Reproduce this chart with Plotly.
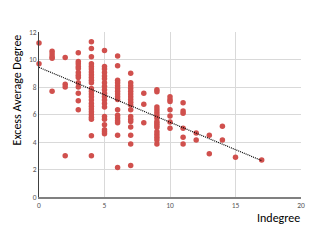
import numpy as np
import plotly.graph_objects as go

# Indegree columns and their Excess Average Degree values
col_x = [0, 1, 2, 3, 4, 5, 6, 7, 8, 9, 10, 11, 12, 13, 14, 15, 17]
col_y = [
    [11.2, 9.7],
    [10.6, 10.4, 10.2, 10.1, 7.7],
    [10.15, 8.2, 8.0, 3.0],
    [10.5, 9.85, 9.7, 9.5, 9.35, 9.05, 8.85, 8.7, 8.3, 8.0, 7.55, 7.0, 6.35],
    [11.3, 10.8, 10.2, 9.7, 9.5, 9.3, 9.1, 8.9, 8.7, 8.5, 8.3, 7.9, 7.7, 7.5,
     7.3, 7.05, 6.8, 6.6, 6.4, 6.2, 6.0, 5.8, 5.65, 4.45, 3.0],
    [10.65, 9.5, 9.3, 9.05, 8.8, 8.6, 8.3, 8.05, 7.8, 7.55, 7.3, 7.05, 6.8,
     6.55, 5.85, 5.65, 5.25, 4.9, 4.75, 4.6],
    [10.25, 9.55, 8.5, 8.3, 8.1, 7.9, 7.7, 7.5, 7.3, 7.1, 6.35, 5.95, 5.75,
     5.55, 5.4, 4.5, 2.15],
    [9.0, 8.3, 8.1, 7.9, 7.7, 7.5, 7.3, 7.1, 6.9, 6.7, 6.35, 5.85, 5.65, 5.5,
     5.1, 4.5, 3.85, 2.3],
    [7.55, 6.75, 5.4],
    [7.8, 7.65, 6.55, 6.35, 6.15, 5.95, 5.75, 5.5, 5.35, 5.2, 5.05, 4.75,
     4.55, 4.35, 4.15, 3.85],
    [7.3, 7.1, 6.95, 6.35, 5.9, 5.45, 5.0],
    [6.85, 6.25, 6.1, 5.0, 4.35, 3.85],
    [4.65, 4.15],
    [4.5, 3.15],
    [5.15, 4.15],
    [2.9],
    [2.7],
]

x_ticks = [0, 5, 10, 15, 20]
y_ticks = [0, 2, 4, 6, 8, 10, 12]
x_title = "Indegree"
y_title = "Excess Average Degree"

xs = [cx for cx, ys in zip(col_x, col_y) for _ in ys]
ys = [v for vals in col_y for v in vals]

slope, intercept = np.polyfit(xs, ys, 1)
tx = [min(xs), max(xs)]
ty = [slope * t + intercept for t in tx]

fig = go.Figure()
fig.add_trace(go.Scatter(
    x=xs, y=ys, mode="markers",
    marker=dict(color="#D0504D", size=5.5, line=dict(width=0)),
    cliponaxis=False, showlegend=False,
))
fig.add_trace(go.Scatter(
    x=tx, y=ty, mode="lines",
    line=dict(color="#000000", width=1.2, dash="1px,1px"),
    cliponaxis=False, showlegend=False,
))

font_family = "Carlito, Calibri, Lato, sans-serif"
tick_font = dict(family=font_family, size=7.5, color="#595959")
# page body has an 8px default margin, so the figure is offset by 8px
fig.update_layout(
    width=309, height=237,
    margin=dict(l=31, r=15.5, t=24.3, b=48.3, autoexpand=False),
    paper_bgcolor="white", plot_bgcolor="white",
    xaxis=dict(
        range=[0, 20], tickvals=x_ticks, ticktext=[str(v) for v in x_ticks],
        showgrid=True, gridcolor="#D9D9D9", gridwidth=1,
        showline=True, linecolor="#808080", linewidth=1.5,
        zeroline=False, ticks="", tickfont=tick_font,
        automargin=False, fixedrange=True,
    ),
    yaxis=dict(
        range=[0, 12], tickvals=y_ticks, ticktext=[str(v) for v in y_ticks],
        showgrid=True, gridcolor="#D9D9D9", gridwidth=1,
        showline=True, linecolor="#404040", linewidth=1,
        zeroline=False, ticks="", tickfont=tick_font,
        automargin=False, fixedrange=True,
    ),
    annotations=[
        dict(text=x_title, xref="paper", yref="paper", x=1.005, y=-0.13,
             xanchor="right", yanchor="middle", showarrow=False,
             font=dict(family=font_family, size=12, color="#000000")),
        dict(text=y_title, xref="paper", yref="paper", x=-0.085, y=0.65,
             xanchor="center", yanchor="middle", showarrow=False, textangle=-90,
             font=dict(family=font_family, size=12, color="#000000")),
    ],
)

fig.write_html("out.html")
